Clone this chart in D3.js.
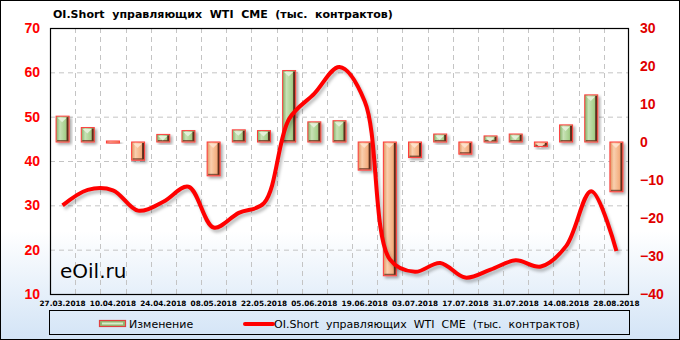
<!DOCTYPE html>
<html><head><meta charset="utf-8">
<script src="https://cdnjs.cloudflare.com/ajax/libs/d3/7.8.5/d3.min.js"></script>
<style>body{margin:0;background:#fff;} svg{display:block;}</style>
</head><body><svg id="c" width="680" height="340"></svg>
<script>
const dates = ["27.03.2018","03.04.2018","10.04.2018","17.04.2018","24.04.2018","01.05.2018","08.05.2018","15.05.2018","22.05.2018","29.05.2018","05.06.2018","12.06.2018","19.06.2018","26.06.2018","03.07.2018","10.07.2018","17.07.2018","24.07.2018","31.07.2018","07.08.2018","14.08.2018","21.08.2018","28.08.2018"];
const changes = [6.8, 3.8, -0.3, -4.8, 2.0, 3.0, -8.9, 3.2, 3.0, 18.8, 5.3, 5.6, -7.4, -35.2, -4.1, 2.1, -3.2, 1.6, 2.1, -1.2, 4.5, 12.4, -13.1];
const oiShort = [30, 33.5, 33.4, 28.8, 30.8, 34.2, 25, 28.3, 30.5, 49.5, 55.2, 61.2, 53.5, 17.8, 15, 17, 13.7, 15.5, 17.6, 16.2, 20.8, 33.2, 19.7];
const leftTicks = [10,20,30,40,50,60,70];
const rightTicks = [-40,-30,-20,-10,0,10,20,30];
const xTickLabels = dates.filter((d,i)=>i%2===0);
const titleText = "OI.Short  управляющих  WTI  CME  (тыс.  контрактов)";
const barSeriesName = "Изменение";
const lineSeriesName = "OI.Short  управляющих  WTI  CME  (тыс.  контрактов)";
const watermark = "eOil.ru";

const W = 680, H = 340;
const L = 50, R = 629, T = 28, B = 294;
const svg = d3.select("#c");
const defs = svg.append("defs");

// background gradient
const bg = defs.append("linearGradient").attr("id","bg").attr("x1",0).attr("y1",0).attr("x2",0).attr("y2",1);
bg.append("stop").attr("offset","0").attr("stop-color","#ffffff");
bg.append("stop").attr("offset","0.68").attr("stop-color","#ffffff");
bg.append("stop").attr("offset","1").attr("stop-color","#d3e4f6");
svg.append("rect").attr("x",0.5).attr("y",0.5).attr("width",W-1).attr("height",H-1)
  .attr("fill","url(#bg)").attr("stroke","#000").attr("stroke-width",1);

// bar gradients
function barGrad(id, edge, mid, light){
  const g = defs.append("linearGradient").attr("id",id).attr("x1",0).attr("y1",0).attr("x2",1).attr("y2",0);
  g.append("stop").attr("offset","0").attr("stop-color",edge);
  g.append("stop").attr("offset","0.3").attr("stop-color",light);
  g.append("stop").attr("offset","0.7").attr("stop-color",mid);
  g.append("stop").attr("offset","1").attr("stop-color",edge);
}
barGrad("gGreen","#7fae63","#a8d08d","#c8e2b6");
barGrad("gOrange","#e0925c","#f4b183","#f9cfae");

const sh = defs.append("filter").attr("id","shadow").attr("x","-30%").attr("y","-30%").attr("width","160%").attr("height","160%");
sh.append("feGaussianBlur").attr("in","SourceAlpha").attr("stdDeviation",1.6);
sh.append("feOffset").attr("dx",2).attr("dy",2).attr("result","ob");
sh.append("feComponentTransfer").append("feFuncA").attr("type","linear").attr("slope",0.35);
const mg = sh.append("feMerge"); mg.append("feMergeNode"); mg.append("feMergeNode").attr("in","SourceGraphic");

const x = d3.scaleBand().domain(dates).range([L,R]).padding(0);
const yL = d3.scaleLinear().domain([10,70]).range([B,T]);
const yR = d3.scaleLinear().domain([-40,30]).range([B,T]);

// gridlines
const grid = svg.append("g");
grid.selectAll("line.h").data(leftTicks.filter(v=>v>10&&v<70)).join("line")
  .attr("x1",L).attr("x2",R).attr("y1",d=>yL(d)+0.5).attr("y2",d=>yL(d)+0.5)
  .attr("stroke","#c4c4c4").attr("stroke-dasharray","5,4");
grid.selectAll("line.v").data(dates.slice(1)).join("line")
  .attr("x1",d=>Math.round(x(d))+0.5).attr("x2",d=>Math.round(x(d))+0.5).attr("y1",T).attr("y2",B)
  .attr("stroke","#c4c4c4").attr("stroke-dasharray","5,4");

// bars
const bw = 13;
const bars = svg.append("g");
dates.forEach((d,i)=>{
  const v = changes[i];
  const cx = x(d)+x.bandwidth()/2;
  const y0 = yR(0);
  let y1 = yR(v);
  let top = Math.min(y0,y1), h = Math.abs(y1-y0);
  if (h < 2) { h = 2; top = y0 - 1; }
  const pos = v >= 0;
  const g = bars.append("g").attr("filter","url(#shadow)");
  g.append("rect").attr("x",cx-bw/2).attr("y",top).attr("width",bw).attr("height",h)
    .attr("fill", pos ? "url(#gGreen)" : "url(#gOrange)");
  if (h > 4) {
    g.append("rect").attr("x",cx+bw/2-2.5).attr("y",top+1).attr("width",2).attr("height",h-2)
      .attr("fill","#5b2d1e");
    g.append("rect").attr("x",cx-bw/2+1).attr("y",top+h-2).attr("width",bw-2).attr("height",1.5)
      .attr("fill","#6b3a26").attr("opacity",0.8);
    g.append("path").attr("d",`M${cx-bw/2+1.5},${top+1.5} L${cx+bw/2-2.5},${top+1.5} L${cx-0.5},${top+6} Z`)
      .attr("fill", pos ? "#e8f3df" : "#fde3cf").attr("opacity",0.9);
  }
  g.append("rect").attr("x",cx-bw/2).attr("y",top).attr("width",bw).attr("height",h)
    .attr("fill","none").attr("stroke","#ff3b3b").attr("stroke-width",1);
});

// line
const line = d3.line().x((d,i)=>x(dates[i])+x.bandwidth()/2).y(d=>yL(d)).curve(d3.curveCatmullRom.alpha(0.5));
svg.append("path").datum(oiShort).attr("d",line).attr("fill","none")
  .attr("stroke","#000").attr("stroke-opacity",0.25).attr("stroke-width",4)
  .attr("transform","translate(2,3)").style("filter","blur(1.5px)");
svg.append("path").datum(oiShort).attr("d",line).attr("fill","none")
  .attr("stroke","#ff0000").attr("stroke-width",4).attr("stroke-linejoin","round");

// plot border
svg.append("rect").attr("x",L+0.5).attr("y",T+0.5).attr("width",R-L-1).attr("height",B-T)
  .attr("fill","none").attr("stroke","#000").attr("stroke-width",1.2);

// axes
const axL = svg.append("g").attr("transform",`translate(${L},0)`)
  .call(d3.axisLeft(yL).tickValues(leftTicks).tickSize(0).tickPadding(10).tickFormat(d3.format("d")));
axL.select(".domain").remove();
axL.selectAll("text").attr("fill","#ff0000").style("font","bold 14px 'Liberation Sans', Arial, sans-serif");

const axR = svg.append("g").attr("transform",`translate(${R},0)`)
  .call(d3.axisRight(yR).tickValues(rightTicks).tickSize(0).tickPadding(11).tickFormat(d3.format("d")));
axR.select(".domain").remove();
axR.selectAll("text").attr("fill","#e00000").style("font","bold 14px 'Liberation Sans', Arial, sans-serif");

const axB = svg.append("g").attr("transform",`translate(0,${B})`)
  .call(d3.axisBottom(x).tickValues(xTickLabels).tickSize(0).tickPadding(7));
axB.select(".domain").remove();
axB.selectAll("text").attr("fill","#000").style("font","bold 7.3px 'DejaVu Sans', Verdana, sans-serif");

// title
svg.append("text").attr("x",53).attr("y",18).attr("xml:space","preserve").style("white-space","pre")
  .style("font","bold 11px 'DejaVu Sans', Verdana, sans-serif").attr("fill","#000").text(titleText);

// watermark
svg.append("text").attr("x",60).attr("y",278).style("font","20px 'DejaVu Sans', Verdana, sans-serif")
  .attr("fill","#000").text(watermark);

// legend
const lg = svg.append("g");
lg.append("rect").attr("x",49.5).attr("y",310.5).attr("width",580).attr("height",24)
  .attr("fill","none").attr("stroke","#000").attr("stroke-width",1);
lg.append("rect").attr("x",99.5).attr("y",320.5).attr("width",26).attr("height",6)
  .attr("fill","#8fba74").attr("stroke","#e04040").attr("stroke-width",1.2);
lg.append("rect").attr("x",102).attr("y",322.5).attr("width",21).attr("height",2).attr("fill","#d8ebc9");
lg.append("text").attr("x",129).attr("y",328).style("font","11px 'DejaVu Sans', Verdana, sans-serif")
  .attr("fill","#000").text(barSeriesName);
lg.append("line").attr("x1",245).attr("x2",273).attr("y1",324).attr("y2",324)
  .attr("stroke","#ff0000").attr("stroke-width",4).attr("stroke-linecap","round");
lg.append("text").attr("x",274).attr("y",328).attr("xml:space","preserve").style("white-space","pre")
  .style("font","11px 'DejaVu Sans', Verdana, sans-serif").attr("fill","#000").text(lineSeriesName);
</script>
</body></html>
